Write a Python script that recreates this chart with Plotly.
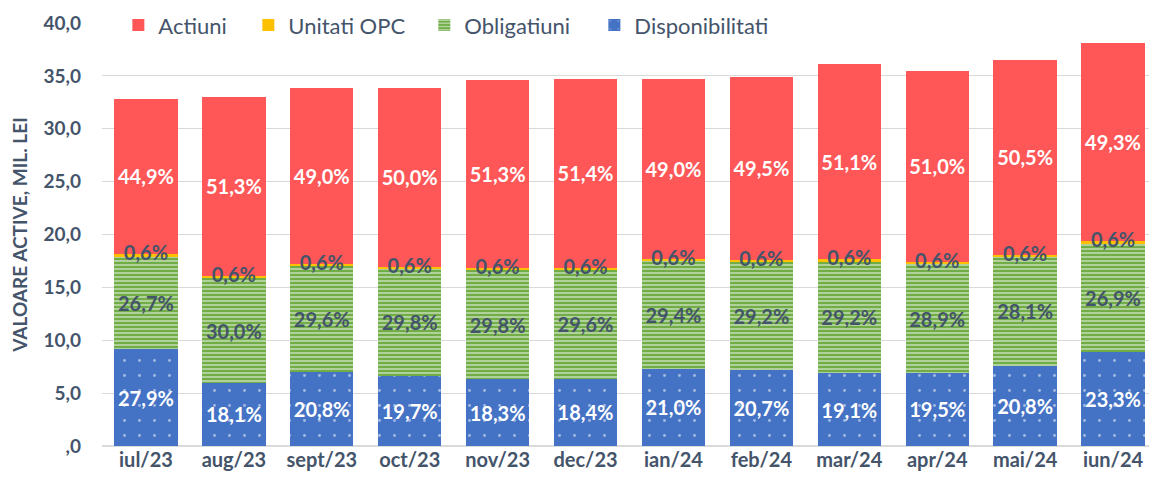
import plotly.graph_objects as go

categories = ["iul/23", "aug/23", "sept/23", "oct/23", "nov/23", "dec/23",
              "ian/24", "feb/24", "mar/24", "apr/24", "mai/24", "iun/24"]

# values in mil. lei
disponibilitati = [9.15, 5.97, 7.03, 6.66, 6.33, 6.38, 7.29, 7.22, 6.90, 6.92, 7.59, 8.88]
obligatiuni     = [8.76, 9.90, 10.00, 10.07, 10.31, 10.27, 10.20, 10.19, 10.54, 10.26, 10.26, 10.25]
unitati_opc     = [0.22, 0.22, 0.22, 0.22, 0.22, 0.22, 0.22, 0.22, 0.23, 0.22, 0.23, 0.24]
actiuni         = [14.73, 16.93, 16.56, 16.90, 17.75, 17.84, 17.00, 17.28, 18.45, 18.10, 18.43, 18.78]

# percentage labels
pct_disp = ["27,9%", "18,1%", "20,8%", "19,7%", "18,3%", "18,4%", "21,0%", "20,7%", "19,1%", "19,5%", "20,8%", "23,3%"]
pct_oblig = ["26,7%", "30,0%", "29,6%", "29,8%", "29,8%", "29,6%", "29,4%", "29,2%", "29,2%", "28,9%", "28,1%", "26,9%"]
pct_opc = ["0,6%"] * 12
pct_act = ["44,9%", "51,3%", "49,0%", "50,0%", "51,3%", "51,4%", "49,0%", "49,5%", "51,1%", "51,0%", "50,5%", "49,3%"]

tick_vals = [0, 5, 10, 15, 20, 25, 30, 35, 40]
tick_text = [",0", "5,0", "10,0", "15,0", "20,0", "25,0", "30,0", "35,0", "40,0"]

DARK = "#44546A"
FONT = "Lato"
BLUE = "#4472C4"
GREEN = "#70AD47"
YELLOW = "#FFC000"
RED = "#FF5757"
LBL = 20

fig = go.Figure()
fig.add_trace(go.Bar(
    name="Disponibilitati", x=categories, y=disponibilitati, text=pct_disp, legend="legend4",
    marker=dict(color=BLUE, line=dict(width=0),
                pattern=dict(shape=".", fgcolor="white", bgcolor=BLUE, size=15, solidity=0.03)),
    textposition="inside", insidetextanchor="middle",
    textfont=dict(color="white", size=LBL, family=FONT, weight="bold"),
    hoverinfo="skip"))
fig.add_trace(go.Bar(
    name="Obligatiuni", x=categories, y=obligatiuni, text=pct_oblig, legend="legend3",
    marker=dict(color=GREEN, line=dict(width=0),
                pattern=dict(shape="-", fgcolor="white", bgcolor=GREEN, size=4, solidity=0.45)),
    textposition="inside", insidetextanchor="middle",
    textfont=dict(color=DARK, size=LBL, family=FONT, weight="bold"),
    hoverinfo="skip"))
fig.add_trace(go.Bar(
    name="Unitati OPC", x=categories, y=unitati_opc, legend="legend2",
    marker=dict(color=YELLOW, line=dict(width=0)),
    textposition="none", hoverinfo="skip"))
fig.add_trace(go.Bar(
    name="Actiuni", x=categories, y=actiuni, text=pct_act, legend="legend",
    marker=dict(color=RED, line=dict(width=0)),
    textposition="inside", insidetextanchor="middle",
    textfont=dict(color="white", size=LBL, family=FONT, weight="bold"),
    hoverinfo="skip"))

# 0,6% labels placed on the thin Unitati OPC segment
opc_y = [d + o + u / 2 for d, o, u in zip(disponibilitati, obligatiuni, unitati_opc)]
fig.add_trace(go.Scatter(
    x=categories, y=opc_y, text=pct_opc, mode="text", textposition="middle center",
    textfont=dict(color=DARK, size=LBL, family=FONT, weight="bold"),
    showlegend=False, hoverinfo="skip"))

def leg(x):
    return dict(orientation="h", x=x, y=0.995, xanchor="left", yanchor="middle",
                font=dict(size=22, color=DARK, family=FONT),
                bgcolor="rgba(0,0,0,0)", itemwidth=30)

fig.update_layout(
    barmode="stack",
    bargap=0.28,
    width=1149, height=481,
    margin=dict(l=94, r=0, t=15, b=43, autoexpand=False),
    paper_bgcolor="white", plot_bgcolor="white",
    font=dict(family=FONT, color=DARK),
    uniformtext=dict(minsize=LBL, mode="show"),
    legend=leg(0.0155),
    legend2=leg(0.1387),
    legend3=leg(0.3055),
    legend4=leg(0.4667),
    xaxis=dict(range=[-0.5, len(categories) - 0.5], showgrid=False, showline=False, ticks="",
               tickfont=dict(size=20, color=DARK, family=FONT, weight="bold")),
    yaxis=dict(range=[0, 40], tickvals=tick_vals, ticktext=tick_text,
               showgrid=True, gridcolor="#D9D9D9", gridwidth=1,
               zeroline=True, zerolinecolor="#D9D9D9",
               tickfont=dict(size=19, color=DARK, family=FONT, weight="bold"),
               ticks="", ticklabelstandoff=20,
               title=dict(text="VALOARE ACTIVE, MIL. LEI", standoff=10,
                          font=dict(size=19, color=DARK, family=FONT, weight="bold"))),
)

fig.write_html("out.html")
